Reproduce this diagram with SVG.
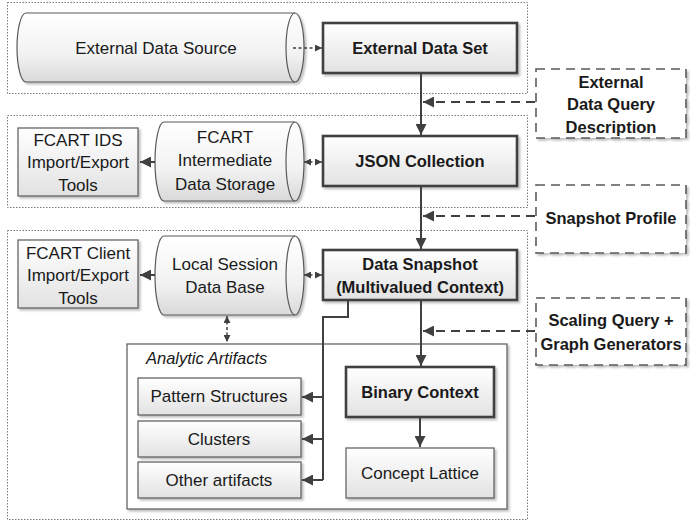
<svg xmlns="http://www.w3.org/2000/svg" width="699" height="528" viewBox="0 0 699 528">
<style>
text{font-family:"Liberation Sans",Arial,sans-serif;font-size:17px;fill:#1a1a1a;text-anchor:middle}
.b{font-weight:bold;font-size:16.5px}
.it{font-style:italic;text-anchor:start;font-size:16.5px}
.frame{fill:none;stroke:#7a7a7a;stroke-width:1;stroke-dasharray:1.5,1.5}
.box{fill:url(#g);stroke:#595959;stroke-width:1.2;filter:url(#sh)}
.tbox{fill:url(#g);stroke:#404040;stroke-width:2.6;filter:url(#sh)}
.dbox{fill:#fff;stroke:#5a5a5a;stroke-width:1.6;stroke-dasharray:9,6;filter:url(#sh)}
.cyl{fill:url(#gc);stroke:#5a5a5a;stroke-width:1.2;filter:url(#sh)}
.cyli{fill:none;stroke:#5a5a5a;stroke-width:1.2}
.aa{fill:#fff;stroke:#595959;stroke-width:1.2;filter:url(#sh)}
.c{fill:none;stroke:#404040;stroke-width:2}
.cd{fill:none;stroke:#404040;stroke-width:1.5;stroke-dasharray:3,2.5}
.cdash{fill:none;stroke:#404040;stroke-width:1.8;stroke-dasharray:9,6}
</style>
<defs>
<linearGradient id="g" x1="0" y1="0" x2="0" y2="1"><stop offset="0" stop-color="#ffffff"/><stop offset="1" stop-color="#e2e2e2"/></linearGradient>
<linearGradient id="gc" x1="0" y1="0" x2="0" y2="1"><stop offset="0" stop-color="#ffffff"/><stop offset="0.6" stop-color="#f2f2f2"/><stop offset="1" stop-color="#d9d9d9"/></linearGradient>
<filter id="sh" x="-10%" y="-10%" width="130%" height="140%"><feDropShadow dx="2" dy="2" stdDeviation="1.2" flood-color="#000" flood-opacity="0.25"/></filter>
<marker id="ahs" viewBox="0 0 10 10" refX="10" refY="5" markerWidth="7" markerHeight="7" orient="auto-start-reverse" markerUnits="userSpaceOnUse"><path d="M0,0 L10,5 L0,10 Z" fill="#404040"/></marker>
<marker id="ahb" viewBox="0 0 10 10" refX="10" refY="5" markerWidth="11" markerHeight="11" orient="auto-start-reverse" markerUnits="userSpaceOnUse"><path d="M0,0 L10,5 L0,10 Z" fill="#404040"/></marker>
</defs>

<g id="frames">
<rect class="frame" x="7.5" y="2.5" width="520" height="91"/>
<rect class="frame" x="7.5" y="115.5" width="520" height="92"/>
<rect class="frame" x="7.5" y="230.5" width="520" height="289"/>
</g>

<g id="external-data-source">
<path class="cyl" d="M26,13 L295,13 A9,34.5 0 0 1 295,82 L26,82 A9,34.5 0 0 1 26,13 Z"/>
<path class="cyli" d="M295,13 A9,34.5 0 0 0 295,82"/>
<text x="156" y="54">External Data Source</text>
</g>

<g id="external-data-set">
<rect class="tbox" x="323" y="23" width="194" height="50"/>
<text class="b" x="420" y="54">External Data Set</text>
</g>

<g id="external-data-query">
<rect class="dbox" x="536" y="69" width="150" height="69"/>
<text class="b" x="611" y="88">External</text>
<text class="b" x="611" y="110">Data Query</text>
<text class="b" x="611" y="133">Description</text>
</g>

<g id="fcart-ids-tools">
<rect class="box" x="18" y="128" width="120" height="68"/>
<text x="78" y="146">FCART IDS</text>
<text x="78" y="168">Import/Export</text>
<text x="78" y="191">Tools</text>
</g>

<g id="fcart-ids">
<path class="cyl" d="M164,122 L295,122 A9,39.5 0 0 1 295,201 L164,201 A9,39.5 0 0 1 164,122 Z"/>
<path class="cyli" d="M295,122 A9,39.5 0 0 0 295,201"/>
<text x="225" y="143">FCART</text>
<text x="225" y="166">Intermediate</text>
<text x="225" y="190">Data Storage</text>
</g>

<g id="json-collection">
<rect class="tbox" x="323" y="136" width="194" height="50"/>
<text class="b" x="420" y="167">JSON Collection</text>
</g>

<g id="snapshot-profile">
<rect class="dbox" x="536" y="185" width="150" height="68"/>
<text class="b" x="611" y="224">Snapshot Profile</text>
</g>

<g id="fcart-client-tools">
<rect class="box" x="18" y="240" width="120" height="68"/>
<text x="78" y="259">FCART Client</text>
<text x="78" y="281">Import/Export</text>
<text x="78" y="304">Tools</text>
</g>

<g id="local-session-db">
<path class="cyl" d="M164,236 L295,236 A9,39.5 0 0 1 295,315 L164,315 A9,39.5 0 0 1 164,236 Z"/>
<path class="cyli" d="M295,236 A9,39.5 0 0 0 295,315"/>
<text x="225" y="270">Local Session</text>
<text x="225" y="293">Data Base</text>
</g>

<g id="data-snapshot">
<rect class="tbox" x="323" y="250" width="194" height="50"/>
<text class="b" x="420" y="270">Data Snapshot</text>
<text class="b" x="420" y="293">(Multivalued Context)</text>
</g>

<g id="scaling-query">
<rect class="dbox" x="536" y="298" width="150" height="67"/>
<text class="b" x="611" y="326">Scaling Query +</text>
<text class="b" x="611" y="350">Graph Generators</text>
</g>

<g id="analytic-artifacts">
<rect class="aa" x="127" y="344" width="380" height="165"/>
<text class="it" x="146" y="364">Analytic Artifacts</text>
</g>

<g id="pattern-structures">
<rect class="box" x="138" y="378" width="163" height="37"/>
<text x="219" y="402">Pattern Structures</text>
</g>

<g id="clusters">
<rect class="box" x="138" y="421" width="163" height="36"/>
<text x="219" y="445">Clusters</text>
</g>

<g id="other-artifacts">
<rect class="box" x="138" y="462" width="163" height="36"/>
<text x="219" y="486">Other artifacts</text>
</g>

<g id="binary-context">
<rect class="tbox" x="346" y="367" width="148" height="50"/>
<text class="b" x="420" y="398">Binary Context</text>
</g>

<g id="concept-lattice">
<rect class="box" x="346" y="448" width="148" height="50"/>
<text x="420" y="479">Concept Lattice</text>
</g>

<g id="connectors">
<path class="cd" d="M293,48 L322,48" marker-end="url(#ahs)"/>
<path class="c" d="M421,74 L421,135" marker-end="url(#ahb)"/>
<path class="cdash" d="M535,102 L423,102" marker-end="url(#ahb)"/>
<path class="c" d="M155,162 L140,162" marker-end="url(#ahb)"/>
<path class="cd" d="M304,162 L322,162" marker-start="url(#ahs)" marker-end="url(#ahs)"/>
<path class="c" d="M421,187 L421,249" marker-end="url(#ahb)"/>
<path class="cdash" d="M535,216 L423,216" marker-end="url(#ahb)"/>
<path class="c" d="M155,275 L140,275" marker-end="url(#ahb)"/>
<path class="cd" d="M304,275 L322,275" marker-start="url(#ahs)" marker-end="url(#ahs)"/>
<path class="cd" d="M227,316 L227,342" marker-start="url(#ahs)" marker-end="url(#ahs)"/>
<path class="c" d="M421,301 L421,366" marker-end="url(#ahb)"/>
<path class="cdash" d="M535,331 L423,331" marker-end="url(#ahb)"/>
<path class="c" d="M348,301 L348,317 L323,317 L323,480"/>
<path class="c" d="M323,397 L302,397" marker-end="url(#ahb)"/>
<path class="c" d="M323,439 L302,439" marker-end="url(#ahb)"/>
<path class="c" d="M323,480 L302,480" marker-end="url(#ahb)"/>
<path class="c" d="M420,418 L420,447" marker-end="url(#ahb)"/>
</g>
</svg>
